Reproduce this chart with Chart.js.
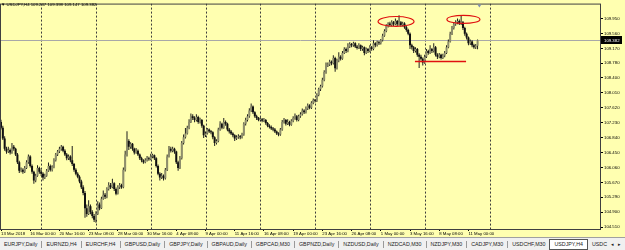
<!DOCTYPE html>
<html>
<head>
<meta charset="utf-8">
<script src="https://cdn.jsdelivr.net/npm/chart.js@4.4.0/dist/chart.umd.min.js"></script>
<style>
html,body{margin:0;padding:0;width:625px;height:250px;overflow:hidden;background:#FFFFB0;font-family:"Liberation Sans",Arial,sans-serif}
#wrap{position:relative;width:625px;height:250px;background:#FFFFB0}
#c{position:absolute;left:0;top:0}
#hdr{position:absolute;left:1px;top:2px;font-size:4.3px;line-height:5px;color:#000;white-space:nowrap}
#tabs{position:absolute;left:0;top:237px;width:625px;height:13px;background:#F0F0F0;border-top:1px solid #A0A0A0;box-sizing:border-box;font-size:5.3px;line-height:11px;white-space:nowrap;display:flex;align-items:center;padding-left:0;color:#222;overflow:hidden}
#tabs span.t{padding:0 4px;border-right:1px solid #999;line-height:7px}
#tabs span.t.act{background:#fff;border:1px solid #555;line-height:9px;padding:0 4px;margin-left:-1px}
#tabs span.t.last{border-right:none;padding-right:2px}
#tabs span.arr{font-size:5px;padding:0 2px}
</style>
</head>
<body>
<div id="wrap">
<canvas id="c" width="625" height="237"></canvas>
<div id="hdr"></div>
<div id="tabs"></div>
</div>
<script>
const symbolName = "USDJPY,H4";
const opens = [107.25,107.10,106.82,106.55,106.48,106.52,106.45,106.60,106.55,106.40,
106.20,105.98,106.00,105.95,106.05,106.20,106.35,106.10,105.95,105.72,
105.85,106.05,105.95,105.90,105.80,105.85,105.98,106.10,106.00,106.08,
106.25,106.40,106.48,106.55,106.60,106.50,106.40,106.30,106.35,106.25,
106.15,106.00,105.90,105.82,105.70,105.55,105.40,105.00,104.85,105.05,
104.90,104.80,104.70,104.85,105.10,105.00,105.25,105.35,105.30,105.50,
105.60,105.55,105.65,105.50,105.38,105.55,105.60,105.55,106.00,106.40,
106.75,106.60,106.68,106.55,106.45,106.50,106.40,106.30,106.25,106.20,
106.25,106.30,106.28,106.35,106.38,106.30,106.10,105.90,105.80,105.85,
105.78,106.00,106.35,106.55,106.50,106.55,106.48,106.20,106.05,106.30,
106.70,106.85,106.95,107.10,107.25,107.40,107.35,107.30,107.38,107.25,
107.30,107.15,106.90,106.95,107.05,107.00,106.98,106.85,106.70,106.75,
107.05,107.20,107.10,107.25,107.20,107.05,107.00,106.95,106.90,106.82,
106.85,106.88,106.85,106.92,107.20,107.30,107.40,107.55,107.65,107.50,
107.40,107.35,107.30,107.32,107.28,107.30,107.22,107.15,107.12,107.08,
107.05,107.00,106.95,106.92,107.05,107.25,107.30,107.20,107.25,107.18,
107.28,107.35,107.40,107.30,107.40,107.45,107.55,107.50,107.60,107.68,
107.62,107.75,107.82,107.80,107.95,108.10,108.18,108.35,108.55,108.72,
108.75,108.82,108.78,108.92,108.65,108.85,108.95,108.90,109.05,109.15,
109.10,109.22,109.28,109.25,109.30,109.22,109.18,109.25,109.15,109.20,
109.05,109.15,109.10,109.20,109.15,109.30,109.25,109.33,109.30,109.38,
109.50,109.62,109.75,109.82,109.78,109.85,109.80,109.88,109.80,109.85,
109.78,109.82,109.72,109.65,109.55,109.25,109.20,109.10,109.15,109.00,
108.95,108.90,108.80,108.95,109.10,109.05,109.15,109.10,109.20,109.00,
108.95,109.00,108.92,108.98,109.05,109.20,109.35,109.55,109.70,109.80,
109.85,109.88,109.82,109.85,109.70,109.55,109.45,109.30,109.35,109.25,
109.20,109.237];
const highs = [107.31,107.15,106.88,106.60,106.60,106.56,106.70,106.65,106.58,106.44,
106.24,106.06,106.04,106.10,106.25,106.40,106.38,106.14,105.98,105.90,
106.12,106.08,106.00,105.94,105.90,106.02,106.19,106.14,106.12,106.30,
106.44,106.52,106.60,106.65,106.63,106.54,106.44,106.40,106.38,106.62,
106.18,106.04,105.94,105.86,105.74,105.60,105.45,105.10,105.21,105.10,
104.95,104.85,104.92,105.18,105.15,105.30,105.46,105.40,105.55,105.68,
105.66,105.77,105.68,105.54,105.60,105.66,105.64,106.06,106.50,107.01,
106.80,106.72,106.70,106.58,106.57,106.53,106.43,106.34,106.28,106.30,
106.36,106.34,106.42,106.42,106.40,106.33,106.14,105.94,105.92,105.88,
106.05,106.40,106.62,106.60,106.60,106.58,106.50,106.24,106.36,106.75,
106.92,107.09,107.15,107.32,107.47,107.45,107.40,107.45,107.41,107.36,
107.33,107.18,107.00,107.09,107.08,107.04,107.01,106.88,106.80,107.10,
107.27,107.23,107.35,107.29,107.23,107.09,107.04,106.98,106.93,106.90,
106.93,106.91,106.97,107.24,107.36,107.45,107.61,107.73,107.68,107.53,
107.44,107.38,107.37,107.35,107.35,107.33,107.25,107.19,107.16,107.12,
107.09,107.03,106.98,107.09,107.30,107.35,107.33,107.32,107.28,107.32,
107.40,107.47,107.43,107.44,107.50,107.60,107.58,107.65,107.73,107.71,
107.79,107.86,107.85,108.00,108.14,108.22,108.40,108.60,108.80,108.80,
108.87,108.85,108.99,108.95,108.90,109.07,108.99,109.10,109.20,109.19,
109.30,109.33,109.31,109.34,109.33,109.26,109.30,109.27,109.24,109.22,
109.19,109.18,109.25,109.23,109.38,109.33,109.37,109.36,109.41,109.55,
109.67,109.80,109.85,109.86,109.90,109.88,109.95,109.91,110.03,109.88,
109.86,109.85,109.75,109.68,109.58,109.29,109.23,109.20,109.18,109.04,
109.00,108.93,109.00,109.15,109.13,109.25,109.18,109.30,109.23,109.04,
109.05,109.03,109.03,109.10,109.25,109.40,109.60,109.75,109.85,109.90,
109.95,109.92,110.03,109.88,109.73,109.58,109.48,109.40,109.38,109.29,
109.28,109.398];
const lows = [107.05,106.78,106.50,106.42,106.44,106.40,106.42,106.50,106.36,106.15,
105.92,105.94,105.90,105.92,106.02,106.16,106.06,105.90,105.64,105.68,
105.82,105.90,105.84,105.72,105.76,105.82,105.95,105.96,105.96,106.04,
106.22,106.36,106.44,106.50,106.46,106.36,106.25,106.26,106.20,106.10,
105.95,105.86,105.78,105.65,105.50,105.34,104.75,104.78,104.82,104.84,
104.74,104.64,104.62,104.82,104.95,104.98,105.22,105.24,105.26,105.46,
105.50,105.52,105.45,105.34,105.36,105.50,105.51,105.52,105.96,106.35,
106.52,106.55,106.50,106.40,106.42,106.36,106.26,106.20,106.16,106.17,
106.22,106.24,106.25,106.30,106.26,106.06,105.86,105.72,105.76,105.72,
105.75,105.97,106.32,106.45,106.46,106.42,106.15,105.98,106.02,106.27,
106.66,106.82,106.92,107.06,107.22,107.30,107.24,107.26,107.20,107.21,
107.10,106.83,106.86,106.92,106.96,106.93,106.80,106.62,106.66,106.72,
107.02,107.06,107.07,107.15,107.01,106.95,106.91,106.85,106.75,106.78,
106.81,106.80,106.82,106.89,107.16,107.26,107.36,107.51,107.46,107.36,
107.30,107.27,107.27,107.24,107.25,107.18,107.11,107.08,107.04,107.01,
106.96,106.91,106.88,106.89,107.02,107.21,107.16,107.17,107.14,107.15,
107.24,107.31,107.26,107.27,107.36,107.42,107.46,107.47,107.56,107.58,
107.59,107.71,107.76,107.77,107.92,108.06,108.15,108.31,108.51,108.68,
108.71,108.73,108.75,108.56,108.62,108.81,108.85,108.87,109.02,109.05,
109.07,109.18,109.20,109.21,109.18,109.14,109.15,109.10,109.11,108.99,
109.02,109.05,109.07,109.11,109.12,109.20,109.22,109.26,109.27,109.35,
109.47,109.59,109.71,109.73,109.74,109.75,109.77,109.75,109.76,109.73,
109.74,109.68,109.60,109.51,109.15,109.14,109.05,109.06,108.95,108.66,
108.85,108.72,108.77,108.92,109.00,109.02,109.05,109.06,108.96,108.89,
108.91,108.88,108.89,108.94,109.02,109.17,109.32,109.52,109.66,109.76,
109.80,109.78,109.78,109.65,109.50,109.40,109.25,109.26,109.20,109.16,
109.15,109.147];
const closes = [107.10,106.82,106.55,106.48,106.52,106.45,106.60,106.55,106.40,106.20,
105.98,106.00,105.95,106.05,106.20,106.35,106.10,105.95,105.72,105.85,
106.05,105.95,105.90,105.80,105.85,105.98,106.10,106.00,106.08,106.25,
106.40,106.48,106.55,106.60,106.50,106.40,106.30,106.35,106.25,106.15,
106.00,105.90,105.82,105.70,105.55,105.40,105.00,104.85,105.05,104.90,
104.80,104.70,104.85,105.10,105.00,105.25,105.35,105.30,105.50,105.60,
105.55,105.65,105.50,105.38,105.55,105.60,105.55,106.00,106.40,106.75,
106.60,106.68,106.55,106.45,106.50,106.40,106.30,106.25,106.20,106.25,
106.30,106.28,106.35,106.38,106.30,106.10,105.90,105.80,105.85,105.78,
106.00,106.35,106.55,106.50,106.55,106.48,106.20,106.05,106.30,106.70,
106.85,106.95,107.10,107.25,107.40,107.35,107.30,107.38,107.25,107.30,
107.15,106.90,106.95,107.05,107.00,106.98,106.85,106.70,106.75,107.05,
107.20,107.10,107.25,107.20,107.05,107.00,106.95,106.90,106.82,106.85,
106.88,106.85,106.92,107.20,107.30,107.40,107.55,107.65,107.50,107.40,
107.35,107.30,107.32,107.28,107.30,107.22,107.15,107.12,107.08,107.05,
107.00,106.95,106.92,107.05,107.25,107.30,107.20,107.25,107.18,107.28,
107.35,107.40,107.30,107.40,107.45,107.55,107.50,107.60,107.68,107.62,
107.75,107.82,107.80,107.95,108.10,108.18,108.35,108.55,108.72,108.75,
108.82,108.78,108.92,108.65,108.85,108.95,108.90,109.05,109.15,109.10,
109.22,109.28,109.25,109.30,109.22,109.18,109.25,109.15,109.20,109.05,
109.15,109.10,109.20,109.15,109.30,109.25,109.33,109.30,109.38,109.50,
109.62,109.75,109.82,109.78,109.85,109.80,109.88,109.80,109.85,109.78,
109.82,109.72,109.65,109.55,109.25,109.20,109.10,109.15,109.00,108.95,
108.90,108.80,108.95,109.10,109.05,109.15,109.10,109.20,109.00,108.95,
109.00,108.92,108.98,109.05,109.20,109.35,109.55,109.70,109.80,109.85,
109.88,109.82,109.85,109.70,109.55,109.45,109.30,109.35,109.25,109.20,
109.237,109.382];

const priceTicks = [109.95,109.56,109.17,108.78,108.40,108.01,107.62,107.23,106.84,106.45,106.06,105.67,105.29,104.90,104.51];
const dateTickBars = [0,16,32,48,64,80,96,112,128,144,160,176,192,208,224,240,256];
const dateLabels = ["13 Mar 2018","16 Mar 00:00","20 Mar 16:00","23 Mar 08:00","28 Mar 00:00","30 Mar 16:00","4 Apr 08:00","9 Apr 00:00","11 Apr 16:00","16 Apr 08:00","19 Apr 00:00","23 Apr 16:00","26 Apr 08:00","1 May 00:00","3 May 16:00","8 May 08:00","11 May 00:00"];
const gridBars = [22,52,82,112,142,172,202,232,268];
const ellipseBars = [[206.5,226.2],[244.2,262.3]];
const ellipsePrices = [[110.00,109.74],[110.03,109.82]];
const supportBars = [226.7,254.7];
const supportPrice = 108.83;
const tabNames = ["EURJPY,Daily","EURNZD,H4","EURCHF,H4","GBPUSD,Daily","GBPJPY,Daily","GBPAUD,Daily","GBPCAD,M30","GBPNZD,Daily","NZDUSD,Daily","NZDCAD,M30","NZDJPY,M30","CADJPY,M30","USDCHF,M30","USDJPY,H4","USDC"];

const last = closes.length - 1;
document.getElementById('hdr').textContent = "\u25BC " + symbolName + " " + opens[last].toFixed(3) + " " + highs[last].toFixed(3) + " " + lows[last].toFixed(3) + " " + closes[last].toFixed(3);

const tabsEl = document.getElementById('tabs');
tabNames.forEach((n, i) => {
  const s = document.createElement('span');
  s.className = 't' + (n === symbolName ? ' act' : '') + (i === tabNames.length - 1 ? ' last' : '');
  s.textContent = n;
  tabsEl.appendChild(s);
});
['\u25C2','\u25B8'].forEach(a => { const s = document.createElement('span'); s.className = 'arr'; s.textContent = a; tabsEl.appendChild(s); });

const wickData = closes.map((c, i) => ({x: i, y: [lows[i], highs[i]]}));
const bodyData = closes.map((c, i) => ({x: i, y: [opens[i], c]}));

const FONT = {family: "'Liberation Sans', Arial, sans-serif", size: 4.3};

const overlay = {
  id: 'mtOverlay',
  beforeDatasetsDraw(chart) {
    const {ctx, chartArea: a, scales: {x, y}} = chart;
    ctx.save();
    ctx.beginPath(); ctx.rect(a.left, a.top, a.right - a.left, a.bottom - a.top); ctx.clip();
    ctx.strokeStyle = '#3c3c3c'; ctx.lineWidth = 1; ctx.setLineDash([2, 2]);
    gridBars.forEach(b => {
      const px = Math.round(x.getPixelForValue(b)) + 0.5;
      ctx.beginPath(); ctx.moveTo(px, a.top); ctx.lineTo(px, a.bottom); ctx.stroke();
    });
    ctx.setLineDash([]);
    const py = Math.round(y.getPixelForValue(closes[last])) + 0.5;
    ctx.strokeStyle = '#a8a8a8';
    ctx.beginPath(); ctx.moveTo(a.left, py); ctx.lineTo(a.right, py); ctx.stroke();
    ctx.restore();
  },
  afterDatasetsDraw(chart) {
    const {ctx, chartArea: a, scales: {x, y}} = chart;
    ctx.save();
    ctx.strokeStyle = '#e01010'; ctx.lineWidth = 1.2;
    ellipseBars.forEach((eb, k) => {
      const x0 = x.getPixelForValue(eb[0]), x1 = x.getPixelForValue(eb[1]);
      const y0 = y.getPixelForValue(ellipsePrices[k][0]), y1 = y.getPixelForValue(ellipsePrices[k][1]);
      ctx.beginPath();
      ctx.ellipse((x0 + x1) / 2, (y0 + y1) / 2, Math.abs(x1 - x0) / 2, Math.abs(y1 - y0) / 2, 0, 0, Math.PI * 2);
      ctx.stroke();
    });
    const sy = Math.round(y.getPixelForValue(supportPrice)) + 0.5;
    ctx.lineWidth = 1.3;
    ctx.beginPath(); ctx.moveTo(x.getPixelForValue(supportBars[0]), sy); ctx.lineTo(x.getPixelForValue(supportBars[1]), sy); ctx.stroke();
    ctx.strokeStyle = '#404040'; ctx.lineWidth = 1;
    ctx.strokeRect(a.left + 0.5, a.top + 0.5, a.right - a.left - 1, a.bottom - a.top);
    const mx = x.getPixelForValue(last + 1);
    ctx.fillStyle = '#8090b0';
    ctx.beginPath(); ctx.moveTo(mx - 2, a.top + 1); ctx.lineTo(mx + 2, a.top + 1); ctx.lineTo(mx, a.top + 4); ctx.closePath(); ctx.fill();
    ctx.restore();
  },
  afterDraw(chart) {
    const {ctx, chartArea: a, scales: {y}} = chart;
    const py = Math.round(y.getPixelForValue(closes[last]));
    ctx.save();
    ctx.fillStyle = '#000';
    ctx.fillRect(a.right, py - 4, 21, 8);
    ctx.fillStyle = '#fff';
    ctx.font = "4.3px 'Liberation Sans', Arial, sans-serif";
    ctx.textBaseline = 'middle'; ctx.textAlign = 'left';
    ctx.fillText(closes[last].toFixed(3), a.right + 3, py + 0.5);
    ctx.restore();
  }
};

new Chart(document.getElementById('c'), {
  type: 'bar',
  data: {
    datasets: [
      {
        label: 'body', data: bodyData, grouped: false, barThickness: 2, minBarLength: 1, inflateAmount: 0,
        backgroundColor: ctx => (closes[ctx.dataIndex] >= opens[ctx.dataIndex] ? '#8e8e6c' : '#111111'),
        borderWidth: 0
      },
      {
        label: 'wick', data: wickData, grouped: false, barThickness: 1, inflateAmount: 0,
        backgroundColor: '#1e1e1e', borderWidth: 0
      }
    ]
  },
  options: {
    responsive: false,
    animation: false,
    devicePixelRatio: 1,
    layout: {padding: {top: 1, left: 0, right: 0, bottom: 0}},
    plugins: {legend: {display: false}, tooltip: {enabled: false}, title: {display: false}},
    scales: {
      x: {
        type: 'linear', offset: false, min: -0.55, max: 328.6,
        grid: {display: true, drawOnChartArea: false, drawTicks: true, tickLength: 2, color: '#000', offset: false},
        border: {display: false},
        afterBuildTicks: s => { s.ticks = dateTickBars.map(v => ({value: v})); },
        afterFit: s => { s.height = 8; },
        ticks: {
          autoSkip: false, maxRotation: 0, minRotation: 0, align: 'start', padding: 0,
          color: '#000', font: FONT,
          callback: v => dateLabels[dateTickBars.indexOf(v)]
        }
      },
      y: {
        type: 'linear', position: 'right', min: 104.458, max: 110.337,
        grid: {display: true, drawOnChartArea: false, drawTicks: true, tickLength: 2, color: '#000'},
        border: {display: false},
        afterBuildTicks: s => { s.ticks = priceTicks.map(v => ({value: v})); },
        afterFit: s => { s.width = 24; },
        ticks: {autoSkip: false, padding: 1, color: '#000', font: FONT, callback: v => v.toFixed(3)}
      }
    }
  },
  plugins: [overlay]
});
</script>
</body>
</html>
